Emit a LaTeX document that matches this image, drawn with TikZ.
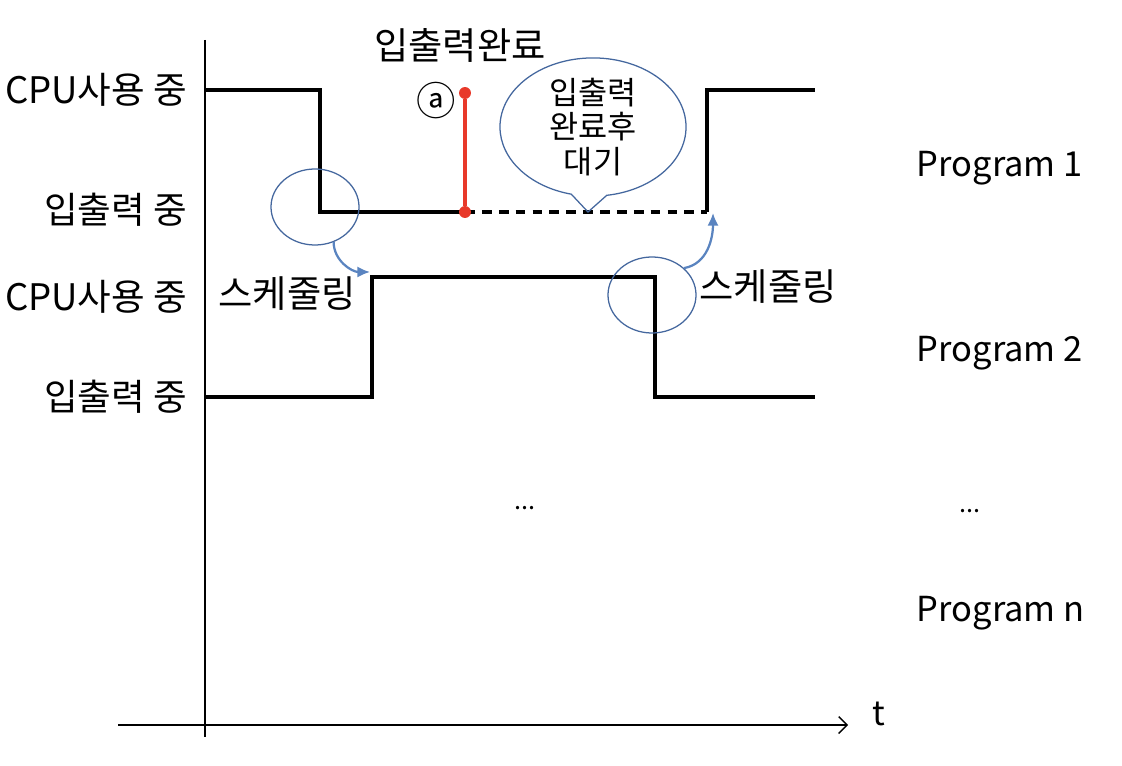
\documentclass[tikz,border=0pt]{standalone}
\usepackage{fontspec}
\setmainfont{Noto Sans CJK KR}
\usepackage{xcolor}
\usetikzlibrary{arrows.meta,positioning,shapes.geometric,shapes.callouts}
\definecolor{ringblue}{HTML}{44679E}
\definecolor{arrblue}{HTML}{5A84C0}
\definecolor{ioRed}{HTML}{E8392A}
\tikzset{lvl/.style={anchor=east,font=\fontsize{26}{30}\selectfont},
 prog/.style={anchor=west,font=\fontsize{24.5}{29}\selectfont},
 big/.style={font=\fontsize{26.5}{30}\selectfont},
 sig/.style={line width=2.6pt,line join=miter},
 wait/.style={sig,dash pattern=on 7pt off 5pt},
 ring/.style={draw=ringblue,line width=0.9pt,ellipse,minimum width=2.2cm,minimum height=1.9cm},
 sched/.style={-{Latex[length=9pt,width=8pt]},arrblue,line width=1.6pt},
 dot/.style={circle,fill=ioRed,inner sep=0pt,minimum size=8.5pt},
 ax/.style={line width=0.9pt}}
\begin{document}
\begin{tikzpicture}[x=0.025cm,y=-0.025cm]
\useasboundingbox (0,0) rectangle (1122,766);
% axes
\coordinate (o) at (205,725);\coordinate (top) at (205,40);
\coordinate (xl) at (118,725);\coordinate (xr) at (848,725);
\draw[ax] (top)--(205,737);
\draw[ax,-{Straight Barb[length=6pt,width=12pt]}] (xl)--(xr);
\node[font=\fontsize{24}{28}\selectfont] (t) at (879,714) {t};
% level labels
\node[lvl] (cpu1) at (192,90) {CPU사용 중};
\node[lvl] (io1) at (192,210) {입출력 중};
\node[lvl] (cpu2) at (192,297) {CPU사용 중};
\node[lvl] (io2) at (192,397) {입출력 중};
% program 1
\draw[sig] (205,90)--(320,90)--(320,212)--(465,212);
\draw[wait] (465,212)--(707,212);
\draw[sig] (707,212)--(707,90)--(815,90);
% program 2
\draw[sig] (205,397)--(372,397)--(372,277)--(655,277)--(655,397)--(815,397);
% io completion
\node[dot] (ra) at (465,93) {};
\node[dot] (rb) at (465,212) {};
\draw[ioRed,line width=2.4pt] (ra)--(rb);
\node[font=\fontsize{28}{32}\selectfont] (mark) at (436,101) {ⓐ};
\node[big] (done) at (460,45) {입출력완료};
\node[ellipse callout,draw=ringblue,line width=0.9pt,minimum width=4.65cm,minimum height=2.65cm,
 inner sep=0pt,callout absolute pointer={(588,212)},callout pointer arc=22,
 align=center,font=\fontsize{22.5}{24.5}\selectfont] (wt) at (593,127) {입출력\\완료후\\대기};
% scheduling
\node[ring] (c1) at (315,207) {};
\node[ring] (c2) at (652,295) {};
\coordinate (p2) at (370,272);\coordinate (p1) at (713,213);
\draw[sched] (c1.-62) to[out=-90,in=180] (p2);
\draw[sched] (c2.40) to[out=10,in=-90] (p1);
\node[big] (s1) at (287,294) {스케줄링};
\node[big] (s2) at (768,287) {스케줄링};
% programs
\node[prog] (pg1) at (912,168) {Program 1};
\node[prog] (pg2) at (912,353) {Program 2};
\node[prog] (pgn) at (912,613) {Program n};
\node[font=\fontsize{18}{22}\selectfont] (d1) at (525,508) {...};
\node[font=\fontsize{18}{22}\selectfont] (d2) at (970,511) {...};
\end{tikzpicture}
\end{document}
